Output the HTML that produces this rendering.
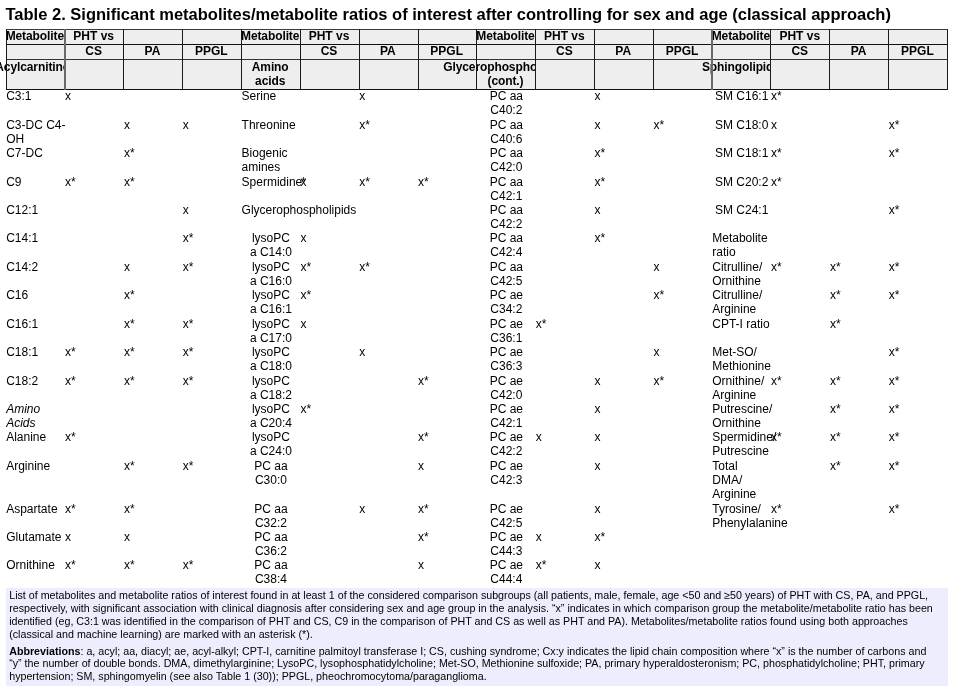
<!DOCTYPE html>
<html><head><meta charset="utf-8"><title>Table 2</title>
<style>
html,body{margin:0;padding:0;background:#fff;}
body{width:953px;height:693px;overflow:hidden;position:relative;will-change:transform;font-family:"Liberation Sans",sans-serif;color:#000;}
.t{position:absolute;white-space:nowrap;font-size:12.0px;line-height:14.225px;height:14.225px;}
.c{text-align:center;width:58.84px;}
.i{font-style:italic;}
.h{font-weight:bold;}
#title{position:absolute;left:5.5px;top:4px;font-weight:bold;font-size:16.5px;line-height:20px;white-space:nowrap;}
#foot{position:absolute;left:6px;top:588px;width:942px;height:98px;background:#edeefd;}
.f{position:absolute;left:9.2px;white-space:nowrap;font-size:10.7px;line-height:13px;height:13px;}
.ln{position:absolute;}
.hc{position:absolute;background:#eeeeee;overflow:visible;}
</style></head><body>
<div id="title">Table 2. Significant metabolites/metabolite ratios of interest after controlling for sex and age (classical approach)</div>
<div id="hdr">
<div class="hc" style="left:6px;top:29px;width:58px;height:15px"><div class="t h" style="left:28.82px;top:0px;letter-spacing:-0.1px;transform:translateX(-50%)">Metabolite</div></div>
<div class="hc" style="left:64px;top:29px;width:59px;height:15px"><div class="t h" style="left:29.66px;top:0px;transform:translateX(-50%)">PHT vs</div></div>
<div class="hc" style="left:123px;top:29px;width:59px;height:15px"></div>
<div class="hc" style="left:182px;top:29px;width:59px;height:15px"></div>
<div class="hc" style="left:241px;top:29px;width:59px;height:15px"><div class="t h" style="left:29.18px;top:0px;letter-spacing:-0.1px;transform:translateX(-50%)">Metabolite</div></div>
<div class="hc" style="left:300px;top:29px;width:59px;height:15px"><div class="t h" style="left:29.02px;top:0px;transform:translateX(-50%)">PHT vs</div></div>
<div class="hc" style="left:359px;top:29px;width:59px;height:15px"></div>
<div class="hc" style="left:418px;top:29px;width:58px;height:15px"></div>
<div class="hc" style="left:476px;top:29px;width:59px;height:15px"><div class="t h" style="left:29.54px;top:0px;letter-spacing:-0.1px;transform:translateX(-50%)">Metabolite</div></div>
<div class="hc" style="left:535px;top:29px;width:59px;height:15px"><div class="t h" style="left:29.38px;top:0px;transform:translateX(-50%)">PHT vs</div></div>
<div class="hc" style="left:594px;top:29px;width:59px;height:15px"></div>
<div class="hc" style="left:653px;top:29px;width:58px;height:15px"></div>
<div class="hc" style="left:711px;top:29px;width:59px;height:15px"><div class="t h" style="left:29.90px;top:0px;letter-spacing:-0.1px;transform:translateX(-50%)">Metabolite</div></div>
<div class="hc" style="left:770px;top:29px;width:59px;height:15px"><div class="t h" style="left:29.74px;top:0px;transform:translateX(-50%)">PHT vs</div></div>
<div class="hc" style="left:829px;top:29px;width:59px;height:15px"></div>
<div class="hc" style="left:888px;top:29px;width:59px;height:15px"></div>
<div class="hc" style="left:6px;top:44px;width:58px;height:15px"></div>
<div class="hc" style="left:64px;top:44px;width:59px;height:15px"><div class="t h" style="left:29.66px;top:0px;transform:translateX(-50%)">CS</div></div>
<div class="hc" style="left:123px;top:44px;width:59px;height:15px"><div class="t h" style="left:29.50px;top:0px;transform:translateX(-50%)">PA</div></div>
<div class="hc" style="left:182px;top:44px;width:59px;height:15px"><div class="t h" style="left:29.34px;top:0px;transform:translateX(-50%)">PPGL</div></div>
<div class="hc" style="left:241px;top:44px;width:59px;height:15px"></div>
<div class="hc" style="left:300px;top:44px;width:59px;height:15px"><div class="t h" style="left:29.02px;top:0px;transform:translateX(-50%)">CS</div></div>
<div class="hc" style="left:359px;top:44px;width:59px;height:15px"><div class="t h" style="left:28.86px;top:0px;transform:translateX(-50%)">PA</div></div>
<div class="hc" style="left:418px;top:44px;width:58px;height:15px"><div class="t h" style="left:28.70px;top:0px;transform:translateX(-50%)">PPGL</div></div>
<div class="hc" style="left:476px;top:44px;width:59px;height:15px"></div>
<div class="hc" style="left:535px;top:44px;width:59px;height:15px"><div class="t h" style="left:29.38px;top:0px;transform:translateX(-50%)">CS</div></div>
<div class="hc" style="left:594px;top:44px;width:59px;height:15px"><div class="t h" style="left:29.22px;top:0px;transform:translateX(-50%)">PA</div></div>
<div class="hc" style="left:653px;top:44px;width:58px;height:15px"><div class="t h" style="left:29.06px;top:0px;transform:translateX(-50%)">PPGL</div></div>
<div class="hc" style="left:711px;top:44px;width:59px;height:15px"></div>
<div class="hc" style="left:770px;top:44px;width:59px;height:15px"><div class="t h" style="left:29.74px;top:0px;transform:translateX(-50%)">CS</div></div>
<div class="hc" style="left:829px;top:44px;width:59px;height:15px"><div class="t h" style="left:29.58px;top:0px;transform:translateX(-50%)">PA</div></div>
<div class="hc" style="left:888px;top:44px;width:59px;height:15px"><div class="t h" style="left:29.42px;top:0px;transform:translateX(-50%)">PPGL</div></div>
<div class="hc" style="left:6px;top:59px;width:58px;height:30px"><div class="t h" style="left:26.32px;top:1px;letter-spacing:-0.1px;transform:translateX(-50%)">Acylcarnitine</div></div>
<div class="hc" style="left:64px;top:59px;width:59px;height:30px"></div>
<div class="hc" style="left:123px;top:59px;width:59px;height:30px"></div>
<div class="hc" style="left:182px;top:59px;width:59px;height:30px"></div>
<div class="hc" style="left:241px;top:59px;width:59px;height:30px"><div class="t h" style="left:29.18px;top:1px;letter-spacing:-0.1px;transform:translateX(-50%)">Amino</div><div class="t h" style="left:29.18px;top:15px;letter-spacing:-0.1px;transform:translateX(-50%)">acids</div></div>
<div class="hc" style="left:300px;top:59px;width:59px;height:30px"></div>
<div class="hc" style="left:359px;top:59px;width:59px;height:30px"></div>
<div class="hc" style="left:418px;top:59px;width:58px;height:30px"></div>
<div class="hc" style="left:476px;top:59px;width:59px;height:30px"><div class="t h" style="left:29.54px;top:1px;letter-spacing:-0.1px;transform:translateX(-50%)">Glycerophospholipids</div><div class="t h" style="left:29.54px;top:15px;letter-spacing:-0.1px;transform:translateX(-50%)">(cont.)</div></div>
<div class="hc" style="left:535px;top:59px;width:59px;height:30px"></div>
<div class="hc" style="left:594px;top:59px;width:59px;height:30px"></div>
<div class="hc" style="left:653px;top:59px;width:58px;height:30px"></div>
<div class="hc" style="left:711px;top:59px;width:59px;height:30px"><div class="t h" style="left:29.90px;top:1px;letter-spacing:-0.1px;transform:translateX(-50%)">Sphingolipids</div></div>
<div class="hc" style="left:770px;top:59px;width:59px;height:30px"></div>
<div class="hc" style="left:829px;top:59px;width:59px;height:30px"></div>
<div class="hc" style="left:888px;top:59px;width:59px;height:30px"></div>
</div>
<div class="ln" style="left:6px;top:29px;width:942px;height:1px;background:#3a3a3a"></div><div class="ln" style="left:6px;top:44px;width:942px;height:1px;background:#111"></div><div class="ln" style="left:6px;top:59px;width:942px;height:1px;background:#333"></div><div class="ln" style="left:6px;top:89px;width:942px;height:1px;background:#111"></div><div class="ln" style="left:6px;top:29px;width:1px;height:61px;background:#1a1a1a"></div><div class="ln" style="left:64px;top:29px;width:2px;height:61px;background:#6a6a6a"></div><div class="ln" style="left:123px;top:29px;width:1px;height:61px;background:#1a1a1a"></div><div class="ln" style="left:182px;top:29px;width:1px;height:61px;background:#1a1a1a"></div><div class="ln" style="left:241px;top:29px;width:1px;height:61px;background:#1a1a1a"></div><div class="ln" style="left:300px;top:29px;width:1px;height:61px;background:#1a1a1a"></div><div class="ln" style="left:359px;top:29px;width:1px;height:61px;background:#1a1a1a"></div><div class="ln" style="left:418px;top:29px;width:1px;height:61px;background:#1a1a1a"></div><div class="ln" style="left:476px;top:29px;width:1px;height:61px;background:#1a1a1a"></div><div class="ln" style="left:535px;top:29px;width:1px;height:61px;background:#1a1a1a"></div><div class="ln" style="left:594px;top:29px;width:1px;height:61px;background:#1a1a1a"></div><div class="ln" style="left:653px;top:29px;width:1px;height:61px;background:#1a1a1a"></div><div class="ln" style="left:711px;top:29px;width:2px;height:61px;background:#6a6a6a"></div><div class="ln" style="left:770px;top:29px;width:1px;height:61px;background:#1a1a1a"></div><div class="ln" style="left:829px;top:29px;width:1px;height:61px;background:#1a1a1a"></div><div class="ln" style="left:888px;top:29px;width:1px;height:61px;background:#1a1a1a"></div><div class="ln" style="left:947px;top:29px;width:1px;height:61px;background:#1a1a1a"></div>
<div id="tbody">
<div class="t" style="left:6.20px;top:89.00px">C3:1</div><div class="t" style="left:65.04px;top:89.00px">x</div><div class="t" style="left:241.56px;top:89.00px">Serine</div><div class="t" style="left:359.24px;top:89.00px">x</div><div class="t c" style="left:476.92px;top:89.00px">PC aa</div><div class="t c" style="left:476.92px;top:103.00px">C40:2</div><div class="t" style="left:594.60px;top:89.00px">x</div><div class="t c" style="left:712.28px;top:89.00px">SM C16:1</div><div class="t" style="left:771.12px;top:89.00px">x*</div>
<div class="t" style="left:6.20px;top:118.00px">C3-DC C4-</div><div class="t" style="left:6.20px;top:132.00px">OH</div><div class="t" style="left:123.88px;top:118.00px">x</div><div class="t" style="left:182.72px;top:118.00px">x</div><div class="t" style="left:241.56px;top:118.00px">Threonine</div><div class="t" style="left:359.24px;top:118.00px">x*</div><div class="t c" style="left:476.92px;top:118.00px">PC aa</div><div class="t c" style="left:476.92px;top:132.00px">C40:6</div><div class="t" style="left:594.60px;top:118.00px">x</div><div class="t" style="left:653.44px;top:118.00px">x*</div><div class="t c" style="left:712.28px;top:118.00px">SM C18:0</div><div class="t" style="left:771.12px;top:118.00px">x</div><div class="t" style="left:888.80px;top:118.00px">x*</div>
<div class="t" style="left:6.20px;top:146.00px">C7-DC</div><div class="t" style="left:123.88px;top:146.00px">x*</div><div class="t" style="left:241.56px;top:146.00px">Biogenic</div><div class="t" style="left:241.56px;top:160.00px">amines</div><div class="t c" style="left:476.92px;top:146.00px">PC aa</div><div class="t c" style="left:476.92px;top:160.00px">C42:0</div><div class="t" style="left:594.60px;top:146.00px">x*</div><div class="t c" style="left:712.28px;top:146.00px">SM C18:1</div><div class="t" style="left:771.12px;top:146.00px">x*</div><div class="t" style="left:888.80px;top:146.00px">x*</div>
<div class="t" style="left:6.20px;top:175.00px">C9</div><div class="t" style="left:65.04px;top:175.00px">x*</div><div class="t" style="left:123.88px;top:175.00px">x*</div><div class="t" style="left:241.56px;top:175.00px">Spermidine</div><div class="t" style="left:300.40px;top:175.00px">x<span style="position:absolute;left:0.8px;top:0">*</span></div><div class="t" style="left:359.24px;top:175.00px">x*</div><div class="t" style="left:418.08px;top:175.00px">x*</div><div class="t c" style="left:476.92px;top:175.00px">PC aa</div><div class="t c" style="left:476.92px;top:189.00px">C42:1</div><div class="t" style="left:594.60px;top:175.00px">x*</div><div class="t c" style="left:712.28px;top:175.00px">SM C20:2</div><div class="t" style="left:771.12px;top:175.00px">x*</div>
<div class="t" style="left:6.20px;top:203.00px">C12:1</div><div class="t" style="left:182.72px;top:203.00px">x</div><div class="t" style="left:241.56px;top:203.00px">Glycerophospholipids</div><div class="t c" style="left:476.92px;top:203.00px">PC aa</div><div class="t c" style="left:476.92px;top:217.00px">C42:2</div><div class="t" style="left:594.60px;top:203.00px">x</div><div class="t c" style="left:712.28px;top:203.00px">SM C24:1</div><div class="t" style="left:888.80px;top:203.00px">x*</div>
<div class="t" style="left:6.20px;top:231.00px">C14:1</div><div class="t" style="left:182.72px;top:231.00px">x*</div><div class="t c" style="left:241.56px;top:231.00px">lysoPC</div><div class="t c" style="left:241.56px;top:245.00px">a C14:0</div><div class="t" style="left:300.40px;top:231.00px">x</div><div class="t c" style="left:476.92px;top:231.00px">PC aa</div><div class="t c" style="left:476.92px;top:245.00px">C42:4</div><div class="t" style="left:594.60px;top:231.00px">x*</div><div class="t" style="left:712.28px;top:231.00px">Metabolite</div><div class="t" style="left:712.28px;top:245.00px">ratio</div>
<div class="t" style="left:6.20px;top:260.00px">C14:2</div><div class="t" style="left:123.88px;top:260.00px">x</div><div class="t" style="left:182.72px;top:260.00px">x*</div><div class="t c" style="left:241.56px;top:260.00px">lysoPC</div><div class="t c" style="left:241.56px;top:274.00px">a C16:0</div><div class="t" style="left:300.40px;top:260.00px">x*</div><div class="t" style="left:359.24px;top:260.00px">x*</div><div class="t c" style="left:476.92px;top:260.00px">PC aa</div><div class="t c" style="left:476.92px;top:274.00px">C42:5</div><div class="t" style="left:653.44px;top:260.00px">x</div><div class="t" style="left:712.28px;top:260.00px">Citrulline/</div><div class="t" style="left:712.28px;top:274.00px">Ornithine</div><div class="t" style="left:771.12px;top:260.00px">x*</div><div class="t" style="left:829.96px;top:260.00px">x*</div><div class="t" style="left:888.80px;top:260.00px">x*</div>
<div class="t" style="left:6.20px;top:288.00px">C16</div><div class="t" style="left:123.88px;top:288.00px">x*</div><div class="t c" style="left:241.56px;top:288.00px">lysoPC</div><div class="t c" style="left:241.56px;top:302.00px">a C16:1</div><div class="t" style="left:300.40px;top:288.00px">x*</div><div class="t c" style="left:476.92px;top:288.00px">PC ae</div><div class="t c" style="left:476.92px;top:302.00px">C34:2</div><div class="t" style="left:653.44px;top:288.00px">x*</div><div class="t" style="left:712.28px;top:288.00px">Citrulline/</div><div class="t" style="left:712.28px;top:302.00px">Arginine</div><div class="t" style="left:829.96px;top:288.00px">x*</div><div class="t" style="left:888.80px;top:288.00px">x*</div>
<div class="t" style="left:6.20px;top:317.00px">C16:1</div><div class="t" style="left:123.88px;top:317.00px">x*</div><div class="t" style="left:182.72px;top:317.00px">x*</div><div class="t c" style="left:241.56px;top:317.00px">lysoPC</div><div class="t c" style="left:241.56px;top:331.00px">a C17:0</div><div class="t" style="left:300.40px;top:317.00px">x</div><div class="t c" style="left:476.92px;top:317.00px">PC ae</div><div class="t c" style="left:476.92px;top:331.00px">C36:1</div><div class="t" style="left:535.76px;top:317.00px">x*</div><div class="t" style="left:712.28px;top:317.00px">CPT-I ratio</div><div class="t" style="left:829.96px;top:317.00px">x*</div>
<div class="t" style="left:6.20px;top:345.00px">C18:1</div><div class="t" style="left:65.04px;top:345.00px">x*</div><div class="t" style="left:123.88px;top:345.00px">x*</div><div class="t" style="left:182.72px;top:345.00px">x*</div><div class="t c" style="left:241.56px;top:345.00px">lysoPC</div><div class="t c" style="left:241.56px;top:359.00px">a C18:0</div><div class="t" style="left:359.24px;top:345.00px">x</div><div class="t c" style="left:476.92px;top:345.00px">PC ae</div><div class="t c" style="left:476.92px;top:359.00px">C36:3</div><div class="t" style="left:653.44px;top:345.00px">x</div><div class="t" style="left:712.28px;top:345.00px">Met-SO/</div><div class="t" style="left:712.28px;top:359.00px">Methionine</div><div class="t" style="left:888.80px;top:345.00px">x*</div>
<div class="t" style="left:6.20px;top:374.00px">C18:2</div><div class="t" style="left:65.04px;top:374.00px">x*</div><div class="t" style="left:123.88px;top:374.00px">x*</div><div class="t" style="left:182.72px;top:374.00px">x*</div><div class="t c" style="left:241.56px;top:374.00px">lysoPC</div><div class="t c" style="left:241.56px;top:388.00px">a C18:2</div><div class="t" style="left:418.08px;top:374.00px">x*</div><div class="t c" style="left:476.92px;top:374.00px">PC ae</div><div class="t c" style="left:476.92px;top:388.00px">C42:0</div><div class="t" style="left:594.60px;top:374.00px">x</div><div class="t" style="left:653.44px;top:374.00px">x*</div><div class="t" style="left:712.28px;top:374.00px">Ornithine/</div><div class="t" style="left:712.28px;top:388.00px">Arginine</div><div class="t" style="left:771.12px;top:374.00px">x*</div><div class="t" style="left:829.96px;top:374.00px">x*</div><div class="t" style="left:888.80px;top:374.00px">x*</div>
<div class="t i" style="left:6.20px;top:402.00px">Amino</div><div class="t i" style="left:6.20px;top:416.00px">Acids</div><div class="t c" style="left:241.56px;top:402.00px">lysoPC</div><div class="t c" style="left:241.56px;top:416.00px">a C20:4</div><div class="t" style="left:300.40px;top:402.00px">x*</div><div class="t c" style="left:476.92px;top:402.00px">PC ae</div><div class="t c" style="left:476.92px;top:416.00px">C42:1</div><div class="t" style="left:594.60px;top:402.00px">x</div><div class="t" style="left:712.28px;top:402.00px">Putrescine/</div><div class="t" style="left:712.28px;top:416.00px">Ornithine</div><div class="t" style="left:829.96px;top:402.00px">x*</div><div class="t" style="left:888.80px;top:402.00px">x*</div>
<div class="t" style="left:6.20px;top:430.00px">Alanine</div><div class="t" style="left:65.04px;top:430.00px">x*</div><div class="t c" style="left:241.56px;top:430.00px">lysoPC</div><div class="t c" style="left:241.56px;top:444.00px">a C24:0</div><div class="t" style="left:418.08px;top:430.00px">x*</div><div class="t c" style="left:476.92px;top:430.00px">PC ae</div><div class="t c" style="left:476.92px;top:444.00px">C42:2</div><div class="t" style="left:535.76px;top:430.00px">x</div><div class="t" style="left:594.60px;top:430.00px">x</div><div class="t" style="left:712.28px;top:430.00px">Spermidine/</div><div class="t" style="left:712.28px;top:444.00px">Putrescine</div><div class="t" style="left:771.12px;top:430.00px">x*</div><div class="t" style="left:829.96px;top:430.00px">x*</div><div class="t" style="left:888.80px;top:430.00px">x*</div>
<div class="t" style="left:6.20px;top:459.00px">Arginine</div><div class="t" style="left:123.88px;top:459.00px">x*</div><div class="t" style="left:182.72px;top:459.00px">x*</div><div class="t c" style="left:241.56px;top:459.00px">PC aa</div><div class="t c" style="left:241.56px;top:473.00px">C30:0</div><div class="t" style="left:418.08px;top:459.00px">x</div><div class="t c" style="left:476.92px;top:459.00px">PC ae</div><div class="t c" style="left:476.92px;top:473.00px">C42:3</div><div class="t" style="left:594.60px;top:459.00px">x</div><div class="t" style="left:712.28px;top:459.00px">Total</div><div class="t" style="left:712.28px;top:473.00px">DMA/</div><div class="t" style="left:712.28px;top:487.00px">Arginine</div><div class="t" style="left:829.96px;top:459.00px">x*</div><div class="t" style="left:888.80px;top:459.00px">x*</div>
<div class="t" style="left:6.20px;top:502.00px">Aspartate</div><div class="t" style="left:65.04px;top:502.00px">x*</div><div class="t" style="left:123.88px;top:502.00px">x*</div><div class="t c" style="left:241.56px;top:502.00px">PC aa</div><div class="t c" style="left:241.56px;top:516.00px">C32:2</div><div class="t" style="left:359.24px;top:502.00px">x</div><div class="t" style="left:418.08px;top:502.00px">x*</div><div class="t c" style="left:476.92px;top:502.00px">PC ae</div><div class="t c" style="left:476.92px;top:516.00px">C42:5</div><div class="t" style="left:594.60px;top:502.00px">x</div><div class="t" style="left:712.28px;top:502.00px">Tyrosine/</div><div class="t" style="left:712.28px;top:516.00px">Phenylalanine</div><div class="t" style="left:771.12px;top:502.00px">x*</div><div class="t" style="left:888.80px;top:502.00px">x*</div>
<div class="t" style="left:6.20px;top:530.00px">Glutamate</div><div class="t" style="left:65.04px;top:530.00px">x</div><div class="t" style="left:123.88px;top:530.00px">x</div><div class="t c" style="left:241.56px;top:530.00px">PC aa</div><div class="t c" style="left:241.56px;top:544.00px">C36:2</div><div class="t" style="left:418.08px;top:530.00px">x*</div><div class="t c" style="left:476.92px;top:530.00px">PC ae</div><div class="t c" style="left:476.92px;top:544.00px">C44:3</div><div class="t" style="left:535.76px;top:530.00px">x</div><div class="t" style="left:594.60px;top:530.00px">x*</div>
<div class="t" style="left:6.20px;top:558.00px">Ornithine</div><div class="t" style="left:65.04px;top:558.00px">x*</div><div class="t" style="left:123.88px;top:558.00px">x*</div><div class="t" style="left:182.72px;top:558.00px">x*</div><div class="t c" style="left:241.56px;top:558.00px">PC aa</div><div class="t c" style="left:241.56px;top:572.00px">C38:4</div><div class="t" style="left:418.08px;top:558.00px">x</div><div class="t c" style="left:476.92px;top:558.00px">PC ae</div><div class="t c" style="left:476.92px;top:572.00px">C44:4</div><div class="t" style="left:535.76px;top:558.00px">x*</div><div class="t" style="left:594.60px;top:558.00px">x</div>
</div>
<div id="foot"></div>
<div class="f" style="top:589.00px">List of metabolites and metabolite ratios of interest found in at least 1 of the considered comparison subgroups (all patients, male, female, age &lt;50 and ≥50 years) of PHT with CS, PA, and PPGL,</div>
<div class="f" style="top:602.00px">respectively, with significant association with clinical diagnosis after considering sex and age group in the analysis. “x” indicates in which comparison group the metabolite/metabolite ratio has been</div>
<div class="f" style="top:615.00px">identified (eg, C3:1 was identified in the comparison of PHT and CS, C9 in the comparison of PHT and CS as well as PHT and PA). Metabolites/metabolite ratios found using both approaches</div>
<div class="f" style="top:628.00px">(classical and machine learning) are marked with an asterisk (*).</div>
<div class="f" style="top:645.00px"><b>Abbreviations</b>: a, acyl; aa, diacyl; ae, acyl-alkyl; CPT-I, carnitine palmitoyl transferase I; CS, cushing syndrome; Cx:y indicates the lipid chain composition where “x” is the number of carbons and</div>
<div class="f" style="top:657.00px">“y” the number of double bonds. DMA, dimethylarginine; LysoPC, lysophosphatidylcholine; Met-SO, Methionine sulfoxide; PA, primary hyperaldosteronism; PC, phosphatidylcholine; PHT, primary</div>
<div class="f" style="top:670.00px">hypertension; SM, sphingomyelin (see also Table 1 (30)); PPGL, pheochromocytoma/paraganglioma.</div>
</body></html>
